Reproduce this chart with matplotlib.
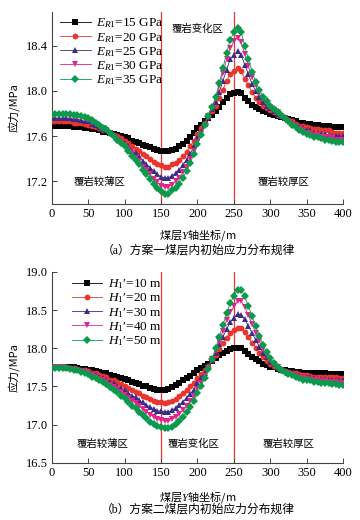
import matplotlib
matplotlib.use("Agg")
import matplotlib.pyplot as plt

plt.rcParams['font.family'] = ['Liberation Serif', 'Noto Sans CJK SC']
plt.rcParams['mathtext.fontset'] = 'custom'
plt.rcParams['mathtext.rm'] = 'Liberation Serif'
plt.rcParams['mathtext.it'] = 'Liberation Serif:italic'
plt.rcParams['axes.unicode_minus'] = False

x = list(range(0, 405, 5))

top_labels = [r"$E_{R1}$=15 GPa", r"$E_{R1}$=20 GPa", r"$E_{R1}$=25 GPa",
              r"$E_{R1}$=30 GPa", r"$E_{R1}$=35 GPa"]
bot_labels = ["$H_1$′=10 m", "$H_1$′=20 m", "$H_1$′=30 m",
              "$H_1$′=40 m", "$H_1$′=50 m"]

top_black = [17.69, 17.69, 17.69, 17.69, 17.69, 17.69, 17.68, 17.68, 17.68, 17.67,
             17.67, 17.66, 17.66, 17.65, 17.64, 17.64, 17.63, 17.62, 17.61, 17.60,
             17.59, 17.58, 17.56, 17.55, 17.54, 17.52, 17.51, 17.50, 17.49, 17.48,
             17.47, 17.47, 17.47, 17.48, 17.49, 17.51, 17.53, 17.56, 17.59, 17.63,
             17.67, 17.70, 17.73, 17.76, 17.79, 17.82, 17.86, 17.90, 17.94, 17.97,
             17.98, 17.99, 17.98, 17.94, 17.91, 17.88, 17.86, 17.84, 17.82, 17.81,
             17.80, 17.79, 17.78, 17.77, 17.76, 17.75, 17.74, 17.73, 17.72, 17.72,
             17.71, 17.71, 17.70, 17.70, 17.69, 17.69, 17.69, 17.68, 17.68, 17.68,
             17.68]
top_red = [17.73, 17.73, 17.73, 17.73, 17.73, 17.73, 17.72, 17.72, 17.72, 17.71,
           17.70, 17.69, 17.68, 17.67, 17.65, 17.65, 17.63, 17.61, 17.60, 17.58,
           17.56, 17.54, 17.51, 17.49, 17.47, 17.44, 17.42, 17.40, 17.37, 17.35,
           17.34, 17.33, 17.33, 17.35, 17.36, 17.39, 17.42, 17.46, 17.51, 17.56,
           17.62, 17.67, 17.72, 17.77, 17.82, 17.87, 17.94, 18.01, 18.09, 18.15,
           18.18, 18.20, 18.18, 18.11, 18.05, 17.99, 17.94, 17.90, 17.87, 17.85,
           17.83, 17.81, 17.79, 17.78, 17.76, 17.74, 17.73, 17.71, 17.69, 17.69,
           17.68, 17.67, 17.66, 17.66, 17.65, 17.65, 17.65, 17.64, 17.63, 17.63,
           17.63]
top_purple = [17.76, 17.76, 17.76, 17.76, 17.76, 17.76, 17.75, 17.75, 17.74, 17.73,
              17.73, 17.71, 17.70, 17.68, 17.66, 17.65, 17.63, 17.61, 17.59, 17.56,
              17.54, 17.51, 17.47, 17.45, 17.42, 17.38, 17.35, 17.32, 17.29, 17.26,
              17.24, 17.23, 17.23, 17.25, 17.27, 17.30, 17.34, 17.39, 17.44, 17.51,
              17.58, 17.64, 17.71, 17.77, 17.84, 17.90, 17.99, 18.09, 18.19, 18.28,
              18.32, 18.35, 18.32, 18.23, 18.15, 18.06, 18.00, 17.95, 17.90, 17.87,
              17.85, 17.82, 17.80, 17.78, 17.76, 17.74, 17.72, 17.70, 17.68, 17.67,
              17.65, 17.65, 17.63, 17.63, 17.62, 17.62, 17.61, 17.60, 17.60, 17.60,
              17.60]
top_pink = [17.79, 17.79, 17.79, 17.79, 17.79, 17.78, 17.77, 17.77, 17.77, 17.75,
            17.74, 17.72, 17.71, 17.69, 17.67, 17.65, 17.63, 17.60, 17.58, 17.55,
            17.52, 17.49, 17.45, 17.41, 17.38, 17.33, 17.30, 17.26, 17.22, 17.19,
            17.16, 17.15, 17.15, 17.17, 17.20, 17.23, 17.28, 17.33, 17.40, 17.47,
            17.55, 17.62, 17.70, 17.78, 17.85, 17.93, 18.04, 18.16, 18.28, 18.38,
            18.44, 18.47, 18.43, 18.33, 18.22, 18.12, 18.05, 17.98, 17.93, 17.89,
            17.86, 17.83, 17.81, 17.78, 17.76, 17.73, 17.71, 17.69, 17.66, 17.65,
            17.63, 17.63, 17.61, 17.61, 17.59, 17.59, 17.59, 17.58, 17.57, 17.57,
            17.57]
top_green = [17.80, 17.80, 17.80, 17.80, 17.80, 17.80, 17.79, 17.79, 17.78, 17.77,
             17.76, 17.74, 17.72, 17.70, 17.67, 17.66, 17.63, 17.60, 17.57, 17.54,
             17.51, 17.47, 17.42, 17.39, 17.35, 17.30, 17.26, 17.22, 17.18, 17.14,
             17.11, 17.09, 17.09, 17.12, 17.14, 17.18, 17.23, 17.29, 17.36, 17.44,
             17.53, 17.61, 17.70, 17.78, 17.86, 17.95, 18.07, 18.20, 18.34, 18.45,
             18.52, 18.56, 18.52, 18.40, 18.28, 18.17, 18.08, 18.01, 17.95, 17.91,
             17.87, 17.84, 17.81, 17.79, 17.76, 17.73, 17.70, 17.68, 17.65, 17.64,
             17.62, 17.61, 17.59, 17.59, 17.58, 17.57, 17.57, 17.56, 17.55, 17.55,
             17.55]

bot_black = [17.76, 17.76, 17.76, 17.76, 17.76, 17.75, 17.75, 17.74, 17.73, 17.73,
             17.72, 17.71, 17.70, 17.69, 17.68, 17.67, 17.65, 17.64, 17.63, 17.61,
             17.60, 17.58, 17.56, 17.55, 17.53, 17.51, 17.50, 17.48, 17.47, 17.46,
             17.46, 17.46, 17.47, 17.49, 17.52, 17.55, 17.58, 17.61, 17.64, 17.67,
             17.71, 17.74, 17.77, 17.80, 17.84, 17.87, 17.91, 17.94, 17.97, 17.99,
             18.00, 18.01, 18.00, 17.97, 17.93, 17.89, 17.86, 17.83, 17.80, 17.78,
             17.76, 17.75, 17.73, 17.72, 17.71, 17.70, 17.70, 17.69, 17.69, 17.68,
             17.68, 17.68, 17.67, 17.67, 17.67, 17.67, 17.66, 17.66, 17.66, 17.66,
             17.66]
bot_red = [17.75, 17.75, 17.75, 17.75, 17.75, 17.74, 17.74, 17.73, 17.72, 17.71,
           17.70, 17.68, 17.67, 17.65, 17.64, 17.62, 17.59, 17.58, 17.56, 17.53,
           17.51, 17.48, 17.45, 17.43, 17.41, 17.38, 17.36, 17.33, 17.31, 17.29,
           17.29, 17.28, 17.29, 17.31, 17.34, 17.38, 17.41, 17.45, 17.50, 17.55,
           17.61, 17.66, 17.72, 17.77, 17.85, 17.91, 17.99, 18.07, 18.14, 18.20,
           18.24, 18.27, 18.27, 18.22, 18.15, 18.07, 18.01, 17.94, 17.88, 17.84,
           17.80, 17.77, 17.74, 17.72, 17.70, 17.69, 17.68, 17.67, 17.66, 17.65,
           17.65, 17.64, 17.63, 17.63, 17.63, 17.63, 17.62, 17.62, 17.62, 17.61,
           17.61]
bot_purple = [17.75, 17.75, 17.75, 17.75, 17.75, 17.74, 17.74, 17.72, 17.71, 17.70,
              17.68, 17.67, 17.65, 17.63, 17.61, 17.59, 17.56, 17.54, 17.51, 17.48,
              17.45, 17.42, 17.38, 17.36, 17.32, 17.29, 17.26, 17.23, 17.21, 17.18,
              17.18, 17.17, 17.17, 17.19, 17.22, 17.26, 17.30, 17.35, 17.40, 17.46,
              17.54, 17.61, 17.68, 17.76, 17.85, 17.94, 18.05, 18.15, 18.25, 18.34,
              18.40, 18.45, 18.44, 18.38, 18.29, 18.20, 18.11, 18.02, 17.94, 17.88,
              17.82, 17.79, 17.75, 17.72, 17.70, 17.68, 17.67, 17.65, 17.65, 17.63,
              17.62, 17.62, 17.61, 17.60, 17.60, 17.60, 17.59, 17.59, 17.59, 17.58,
              17.58]
bot_pink = [17.75, 17.75, 17.75, 17.75, 17.74, 17.73, 17.73, 17.72, 17.70, 17.69,
            17.67, 17.65, 17.62, 17.60, 17.58, 17.56, 17.52, 17.49, 17.47, 17.43,
            17.39, 17.35, 17.31, 17.28, 17.24, 17.20, 17.17, 17.13, 17.10, 17.07,
            17.06, 17.05, 17.05, 17.07, 17.10, 17.14, 17.19, 17.25, 17.31, 17.38,
            17.47, 17.55, 17.64, 17.74, 17.86, 17.97, 18.10, 18.23, 18.37, 18.47,
            18.55, 18.62, 18.62, 18.54, 18.43, 18.32, 18.20, 18.10, 17.99, 17.91,
            17.85, 17.80, 17.75, 17.72, 17.69, 17.67, 17.66, 17.64, 17.63, 17.61,
            17.60, 17.60, 17.58, 17.58, 17.57, 17.57, 17.56, 17.56, 17.56, 17.55,
            17.55]
bot_green = [17.74, 17.74, 17.74, 17.74, 17.74, 17.73, 17.72, 17.71, 17.69, 17.68,
             17.66, 17.63, 17.61, 17.58, 17.56, 17.53, 17.49, 17.46, 17.43, 17.38,
             17.35, 17.30, 17.25, 17.22, 17.17, 17.13, 17.09, 17.04, 17.01, 16.98,
             16.97, 16.95, 16.95, 16.97, 17.01, 17.05, 17.10, 17.16, 17.23, 17.31,
             17.41, 17.51, 17.61, 17.73, 17.86, 18.00, 18.15, 18.30, 18.46, 18.59,
             18.69, 18.77, 18.77, 18.68, 18.55, 18.42, 18.29, 18.16, 18.04, 17.95,
             17.87, 17.81, 17.76, 17.72, 17.69, 17.66, 17.65, 17.62, 17.61, 17.59,
             17.58, 17.58, 17.56, 17.56, 17.55, 17.55, 17.54, 17.53, 17.53, 17.52,
             17.52]

zone_names = ["覆岩较薄区", "覆岩变化区", "覆岩较厚区"]
zone_bounds = [150, 250]
captions = ["（a）方案一煤层内初始应力分布规律", "（b）方案二煤层内初始应力分布规律"]

colors = ['#000000', '#E8352E', '#3B2A86', '#E4228C', '#0B9A4C']
markers = ['s', 'o', '^', 'v', 'D']
msizes = [3.8, 4.2, 4.4, 4.4, 3.8]
vcolor = '#E53935'

fig = plt.figure(figsize=(3.6, 5.2), dpi=100)
ax1 = fig.add_axes([0.144, 0.608, 0.809, 0.369])
ax2 = fig.add_axes([0.144, 0.110, 0.809, 0.367])

top_series = [top_black, top_red, top_purple, top_pink, top_green]
bot_series = [bot_black, bot_red, bot_purple, bot_pink, bot_green]

cjk = ['Noto Sans CJK SC']

def style(ax, ylim, yticks, zone_pos, legend_labels, series, leg_anchor, xlab_y, lspace):
    for ys, c, m, ms, lab in zip(series, colors, markers, msizes, legend_labels):
        ax.plot(x, ys, color=c, marker=m, markersize=ms, markeredgewidth=0,
                linewidth=0.6, label=lab, zorder=3)
    for b in zone_bounds:
        ax.axvline(b, color=vcolor, linewidth=0.9, zorder=1)
    ax.set_xlim(0, 400)
    ax.set_ylim(*ylim)
    ax.set_xticks(range(0, 401, 50))
    ax.set_yticks(yticks)
    ax.set_yticklabels(["%.1f" % v for v in yticks])
    for s in ['top', 'right']:
        ax.spines[s].set_visible(False)
    for s in ['left', 'bottom']:
        ax.spines[s].set_color('#444444')
        ax.spines[s].set_linewidth(0.8)
    ax.tick_params(direction='in', length=3.5, width=0.7, color='#444444',
                   labelsize=9, pad=3)
    for (zx, zy), name in zip(zone_pos, zone_names):
        ax.text(zx, zy, name, fontsize=7.5, family=cjk, ha='center', va='center')
    ax.set_ylabel("应力/MPa", fontsize=8, family=['Noto Sans CJK SC'])
    ax.yaxis.set_label_coords(-0.11, 0.5)
    ax.set_xlabel("煤层$Y$轴坐标/m", fontsize=8, family='Noto Sans CJK SC')
    ax.xaxis.set_label_coords(0.5, xlab_y)
    leg = ax.legend(loc='upper left', bbox_to_anchor=leg_anchor, frameon=False,
                    fontsize=9.5, handlelength=2.3, handletextpad=0.4,
                    labelspacing=lspace, borderpad=0.2, borderaxespad=0)
    return leg

style(ax1, (17.0, 18.7), [17.2, 17.6, 18.0, 18.4],
      [(66, 17.19), (200, 18.55), (318, 17.19)], top_labels, top_series,
      (0.02, 0.99), -0.125, 0.03)
style(ax2, (16.5, 19.0), [16.5, 17.0, 17.5, 18.0, 18.5, 19.0],
      [(70, 16.75), (194, 16.75), (325, 16.75)], bot_labels, bot_series,
      (0.06, 0.985), -0.14, 0.03)

fig.text(0.55, 0.519, captions[0], fontsize=8.5, ha='center', va='center')
fig.text(0.55, 0.021, captions[1], fontsize=8.5, ha='center', va='center')

fig.savefig("out.png", dpi=100)
